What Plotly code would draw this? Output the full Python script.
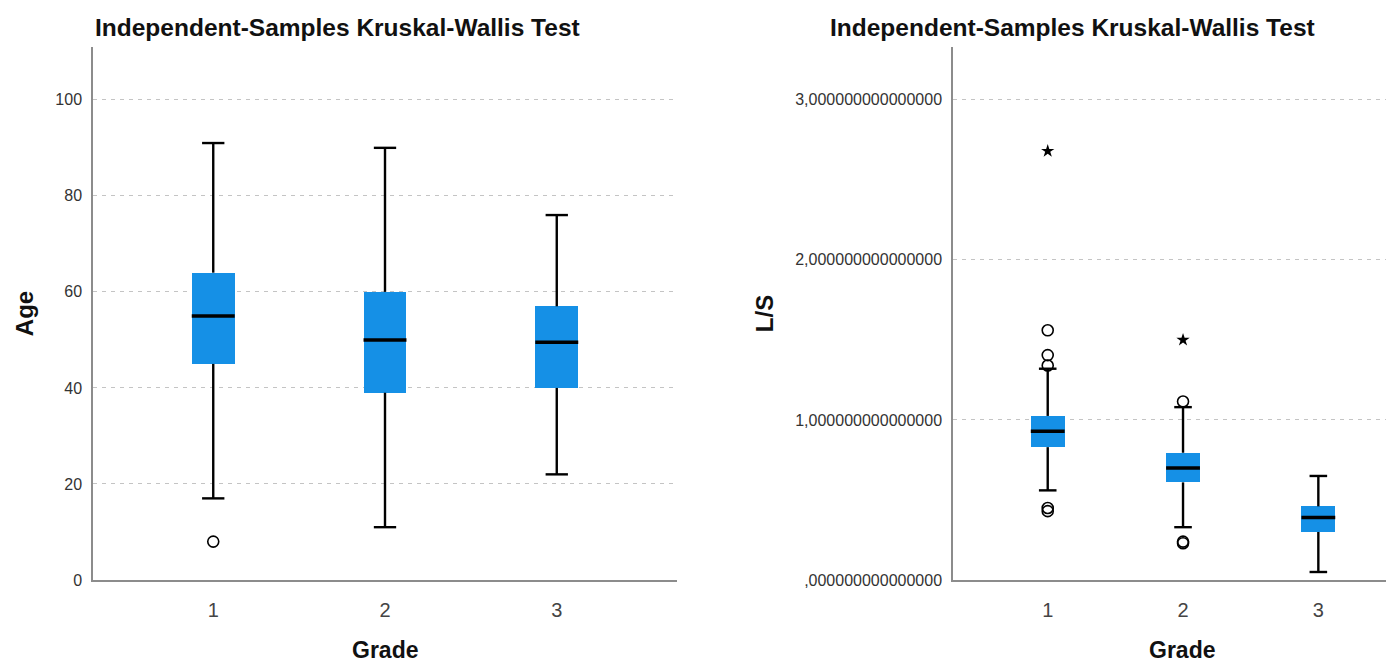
import plotly.graph_objects as go

# Grade groups
grades = [1, 2, 3]
grade_labels = ["1", "2", "3"]

# Age by grade: five-number summaries (whisker ends, quartiles, median)
age_low = [17, 11, 22]
age_q1 = [45, 39, 40]
age_median = [55, 50, 49.5]
age_q3 = [64, 60, 57]
age_high = [91, 90, 76]
age_out_x = [1]
age_out_y = [8]

# L/S by grade
ls_low = [0.56, 0.33, 0.05]
ls_q1 = [0.83, 0.61, 0.30]
ls_median = [0.93, 0.70, 0.39]
ls_q3 = [1.025, 0.795, 0.46]
ls_high = [1.32, 1.08, 0.65]
ls_out_x = [1, 1, 1, 1, 1, 2, 2, 2]
ls_out_y = [1.56, 1.405, 1.34, 0.45, 0.43, 1.115, 0.24, 0.23]
ls_ext_x = [1, 2]
ls_ext_y = [2.68, 1.50]

age_ticks = [0, 20, 40, 60, 80, 100]
ls_ticks = [0, 1, 2, 3]
ls_tick_text = [",000000000000000", "1,000000000000000",
                "2,000000000000000", "3,000000000000000"]

BOX_FILL = "#1590e6"
BOX_W = 0.25
CAP_W = 0.13
FONT = "Liberation Sans, Arial, sans-serif"

fig = go.Figure()


def add_boxes(xa, ya, low, q1, med, q3, high):
    # box bodies as floating bars
    fig.add_trace(go.Bar(
        x=grades, y=[b - a for a, b in zip(q1, q3)], base=q1, width=BOX_W,
        marker=dict(color=BOX_FILL, line=dict(width=0)),
        xaxis=xa, yaxis=ya, showlegend=False, hoverinfo="skip"))
    # whiskers and caps
    wx, wy = [], []
    for g, lo, a, b, hi in zip(grades, low, q1, q3, high):
        wx += [g, g, None, g, g, None,
               g - CAP_W / 2, g + CAP_W / 2, None,
               g - CAP_W / 2, g + CAP_W / 2, None]
        wy += [b, hi, None, a, lo, None, hi, hi, None, lo, lo, None]
    fig.add_trace(go.Scatter(
        x=wx, y=wy, mode="lines", line=dict(color="black", width=2.4),
        xaxis=xa, yaxis=ya, showlegend=False, hoverinfo="skip"))
    # medians
    mx, my = [], []
    for g, m in zip(grades, med):
        mx += [g - BOX_W / 2, g + BOX_W / 2, None]
        my += [m, m, None]
    fig.add_trace(go.Scatter(
        x=mx, y=my, mode="lines", line=dict(color="black", width=3.5),
        xaxis=xa, yaxis=ya, showlegend=False, hoverinfo="skip"))


def add_outliers(xa, ya, xs, ys, symbol, size, width):
    fig.add_trace(go.Scatter(
        x=xs, y=ys, mode="markers",
        marker=dict(symbol=symbol, size=size, color="black",
                    line=dict(color="black", width=width)),
        xaxis=xa, yaxis=ya, showlegend=False, hoverinfo="skip"))


add_boxes("x", "y", age_low, age_q1, age_median, age_q3, age_high)
add_outliers("x", "y", age_out_x, age_out_y, "circle-open", 11, 1.6)

add_boxes("x2", "y2", ls_low, ls_q1, ls_median, ls_q3, ls_high)
add_outliers("x2", "y2", ls_out_x, ls_out_y, "circle-open", 11, 1.6)
add_outliers("x2", "y2", ls_ext_x, ls_ext_y, "star", 10, 0)

W, H = 1386, 664
y_dom = [(H - 580) / H, (H - 47) / H]
x1_dom = [93 / W, 677 / W]
x2_dom = [953 / W, 1.0]

axis_line = dict(showline=True, linecolor="#8c8c8c", linewidth=1.5,
                 zeroline=False, ticks="", mirror=False, automargin=False)
grid = dict(showgrid=True, gridcolor="#c4c4c4", griddash="4px,5px", gridwidth=1)
tick_font = dict(family=FONT, size=16, color="#333333")
x_tick_font = dict(family=FONT, size=20, color="#444444")
title_font = dict(family=FONT, size=24, color="#111111")


def text_label(text, x, y_px, size, xanchor="left"):
    return dict(text=text, x=x, y=(H - y_px) / H, xref="paper", yref="paper",
                xanchor=xanchor, yanchor="middle", showarrow=False,
                font=dict(family=FONT, size=size, color="#111111"))


fig.update_layout(
    width=W, height=H,
    margin=dict(l=0, r=0, t=0, b=0),
    paper_bgcolor="white", plot_bgcolor="white",
    bargap=0,
    xaxis=dict(domain=x1_dom, range=[0.3, 3.7], tickvals=grades,
               ticktext=grade_labels, showgrid=False,
               tickfont=x_tick_font, ticklabelstandoff=11,
               anchor="y", **axis_line),
    yaxis=dict(domain=y_dom, range=[0, 111], tickvals=age_ticks,
               tickfont=tick_font, ticklabelstandoff=6,
               title=dict(text="<b>Age</b>", font=title_font),
               anchor="x", **axis_line, **grid),
    xaxis2=dict(domain=x2_dom, range=[0.3, 3.5], tickvals=grades,
                ticktext=grade_labels, showgrid=False,
                tickfont=x_tick_font, ticklabelstandoff=11,
                anchor="y2", **axis_line),
    yaxis2=dict(domain=y_dom, range=[0, 3.33], tickvals=ls_ticks,
                ticktext=ls_tick_text, tickfont=tick_font, ticklabelstandoff=6,
                title=dict(text="<b>L/S</b>", font=title_font),
                anchor="x2", **axis_line, **grid),
    annotations=[
        text_label("<b>Independent-Samples Kruskal-Wallis Test</b>",
                   x1_dom[0], 28, 24.5),
        text_label("<b>Independent-Samples Kruskal-Wallis Test</b>",
                   828 / W, 28, 24.5),
        # x-axis titles under each panel
        text_label("<b>Grade</b>", 385 / W, 650, 23, "center"),
        text_label("<b>Grade</b>", 1182 / W, 650, 23, "center"),
    ],
)

fig.write_html("out.html")
